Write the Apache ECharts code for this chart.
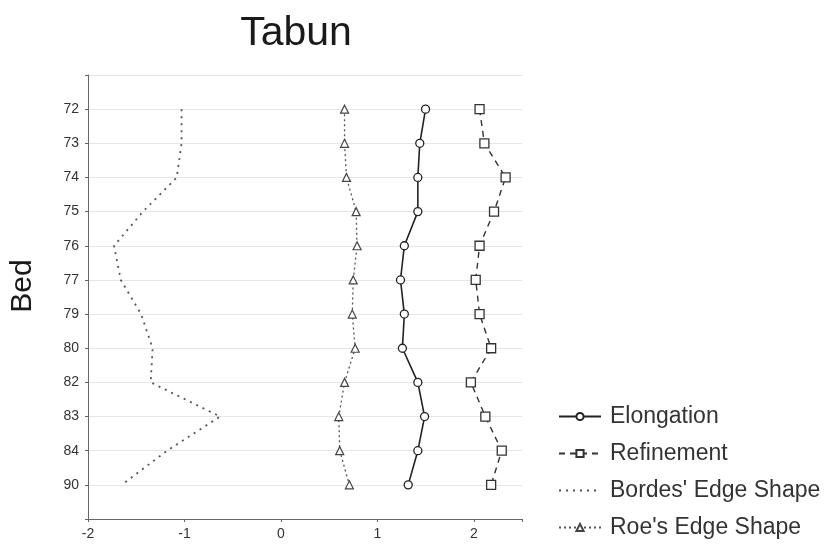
<!DOCTYPE html>
<html>
<head>
<meta charset="utf-8">
<script src="https://cdn.jsdelivr.net/npm/echarts@6/dist/echarts.min.js"></script>
<style>
  html, body { margin: 0; padding: 0; background: #fff; }
  #main { width: 840px; height: 548px; }
</style>
</head>
<body>
<div id="main"></div>
<script>
// beds, top to bottom
var beds = ['72', '73', '74', '75', '76', '77', '79', '80', '82', '83', '84', '90'];
var elongation = [1.50, 1.44, 1.42, 1.42, 1.28, 1.24, 1.28, 1.26, 1.42, 1.49, 1.42, 1.32];
var refinement = [2.06, 2.11, 2.33, 2.21, 2.06, 2.02, 2.06, 2.18, 1.97, 2.12, 2.29, 2.18];
var bordes = [-1.03, -1.03, -1.08, -1.43, -1.73, -1.66, -1.45, -1.33, -1.35, -0.63, -1.18, -1.65];
var roes = [0.66, 0.66, 0.68, 0.78, 0.79, 0.75, 0.74, 0.77, 0.66, 0.60, 0.61, 0.71];
var xTicks = [-2, -1, 0, 1, 2];

function pairs(vals) {
  return vals.map(function (v, i) { return [v, i]; });
}

var chart = echarts.init(document.getElementById('main'));
var font = 'Liberation Sans, Arial, sans-serif';

var option = {
  animation: false,
  backgroundColor: '#fff',
  title: {
    text: 'Tabun',
    left: 291,
    top: 8,
    textAlign: 'center',
    textStyle: { fontFamily: font, fontSize: 41, fontWeight: 'normal', color: '#1a1a1a' }
  },
  grid: { left: 87, right: 318, top: 75, bottom: 29 },
  legend: {
    orient: 'vertical',
    left: 553,
    top: 400,
    itemWidth: 42,
    itemHeight: 9,
    itemGap: 14,
    textStyle: { fontFamily: font, fontSize: 23, lineHeight: 23, color: '#333', padding: [0, 0, 0, 4] },
    data: [
      { name: 'Elongation' },
      { name: 'Refinement' },
      { name: "Bordes' Edge Shape", itemStyle: { opacity: 0 } },
      { name: "Roe's Edge Shape" }
    ]
  },
  xAxis: {
    type: 'value',
    min: -2,
    max: 2.5,
    interval: 1,
    axisLine: { onZero: false, lineStyle: { color: '#666' } },
    axisTick: { length: 3, lineStyle: { color: '#666' } },
    axisLabel: {
      fontFamily: font, fontSize: 14, color: '#333', margin: 8,
      formatter: function (v) { return xTicks.indexOf(v) >= 0 ? String(v) : ''; }
    },
    splitLine: { show: false }
  },
  yAxis: {
    type: 'value',
    inverse: true,
    min: -1,
    max: 12,
    interval: 1,
    name: 'Bed',
    nameLocation: 'middle',
    nameGap: 50,
    nameTextStyle: { fontFamily: font, fontSize: 30, color: '#1a1a1a', padding: [0, 0, 0, 22] },
    axisLine: { show: true, onZero: false, lineStyle: { color: '#666' } },
    axisTick: { show: true, length: 3, lineStyle: { color: '#666' } },
    axisLabel: {
      fontFamily: font, fontSize: 14, color: '#333', margin: 9,
      formatter: function (v) { return beds[v] !== undefined ? beds[v] : ''; }
    },
    splitLine: { show: true, lineStyle: { color: '#e6e6e6', width: 1 } }
  },
  series: [
    {
      name: 'Elongation',
      type: 'line',
      data: pairs(elongation),
      symbol: 'circle',
      symbolSize: 8,
      itemStyle: { color: '#fff', borderColor: '#222', borderWidth: 1.3 },
      lineStyle: { color: '#222', width: 1.6, type: 'solid' }
    },
    {
      name: 'Refinement',
      type: 'line',
      data: pairs(refinement),
      symbol: 'rect',
      symbolSize: 9,
      itemStyle: { color: '#fff', borderColor: '#333', borderWidth: 1.3 },
      lineStyle: { color: '#333', width: 1.4, type: [6, 5] }
    },
    {
      name: "Bordes' Edge Shape",
      type: 'line',
      data: pairs(bordes),
      symbol: 'none',
      itemStyle: { color: '#555' },
      lineStyle: { color: '#555', width: 1.8, type: [2, 5] }
    },
    {
      name: "Roe's Edge Shape",
      type: 'line',
      data: pairs(roes),
      symbol: 'triangle',
      symbolSize: 8,
      itemStyle: { color: '#fff', borderColor: '#444', borderWidth: 1.2 },
      lineStyle: { color: '#555', width: 1.3, type: [2, 3] }
    }
  ]
};

chart.setOption(option);
</script>
</body>
</html>
